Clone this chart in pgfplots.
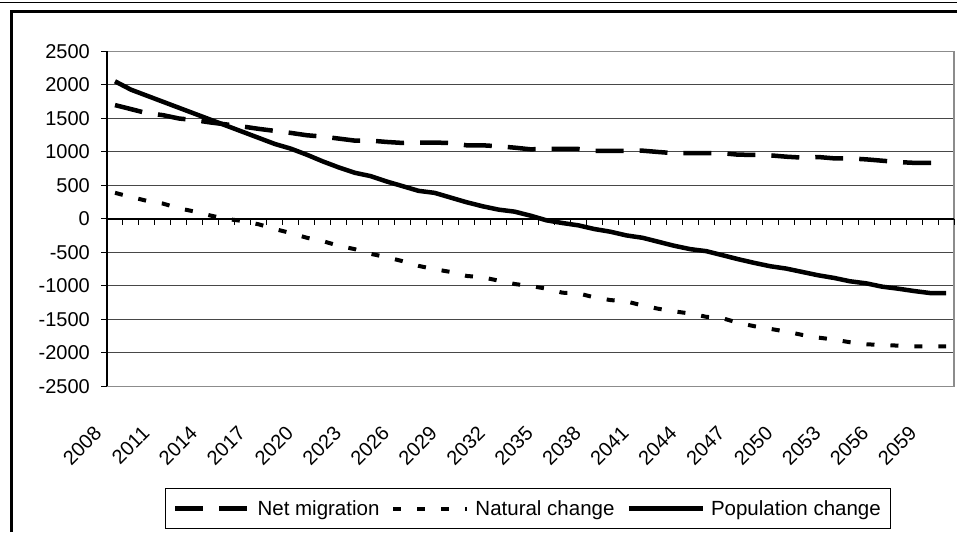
\documentclass[border=0pt]{standalone}
\usepackage{fontspec}
\setmainfont{Liberation Sans}
\usepackage{pgfplots}
\usepackage{pgfplotstable}
\pgfplotsset{compat=1.18}

% year, net migration, natural change, population change
\pgfplotstableread{
year net nat pop
2008 1700 390 2055
2009 1640 330 1930
2010 1580 270 1840
2011 1550 230 1750
2012 1500 160 1660
2013 1475 110 1570
2014 1440 50 1480
2015 1410 0 1390
2016 1380 -30 1300
2017 1345 -80 1210
2018 1315 -150 1120
2019 1285 -210 1050
2020 1250 -280 960
2021 1230 -330 860
2022 1200 -400 770
2023 1170 -450 690
2024 1170 -520 640
2025 1150 -570 560
2026 1135 -630 490
2027 1140 -700 420
2028 1140 -750 390
2029 1135 -790 320
2030 1100 -850 250
2031 1100 -870 190
2032 1085 -920 140
2033 1065 -970 110
2034 1040 -1000 50
2035 1045 -1040 -20
2036 1045 -1100 -60
2037 1045 -1110 -95
2038 1016 -1170 -150
2039 1016 -1210 -190
2040 1016 -1230 -245
2041 1020 -1290 -280
2042 1000 -1340 -340
2043 982 -1380 -400
2044 982 -1410 -450
2045 982 -1460 -480
2046 982 -1480 -540
2047 960 -1550 -600
2048 957 -1600 -655
2049 950 -1640 -705
2050 930 -1680 -740
2051 916 -1730 -790
2052 925 -1770 -840
2053 905 -1800 -880
2054 905 -1840 -930
2055 890 -1870 -960
2056 870 -1880 -1010
2057 850 -1890 -1040
2058 838 -1900 -1075
2059 838 -1900 -1105
2060 835 -1900 -1105
}\datatable

\pgfplotsset{
  plotbox/.style={
    at={(107pt,145.5pt)}, anchor=south west,
    scale only axis, width=847pt, height=335pt,
    xmin=2007.5, xmax=2060.5, ymin=-2500, ymax=2500,
  },
}

\begin{document}
\begin{tikzpicture}[x=1pt,y=1pt]
\useasboundingbox (0,0) rectangle (957,532);
% chart frame (cropped)
\draw[line width=1pt] (0,529.3) -- (957,529.3);
\draw[line width=3pt] (11.3,0) -- (11.3,520) -- (957,520);

% background: box, grid, tick labels
\begin{axis}[
  plotbox,
  axis line style={draw=black!45, line width=1.5pt},
  xtick={2008,2011,...,2059},
  ytick={-2500,-2000,...,2500},
  ymajorgrids,
  grid style={black!72, line width=1pt},
  major tick length=0pt,
  ticklabel style={font=\fontsize{20}{24}\selectfont},
  /pgf/number format/assume math mode=true,
  /pgf/number format/1000 sep={},
  yticklabel style={anchor=east, inner sep=0pt, xshift=-17pt},
  xticklabel style={xshift=-17pt, yshift=-43.5pt, rotate=45, anchor=east, inner sep=0pt},
]
\end{axis}

% axes at zero and the data
\begin{axis}[
  plotbox,
  axis x line=middle, axis y line=left,
  axis line style={black, line width=1.5pt, -},
  xtick={2007.5,2008.5,...,2060.5},
  ytick={-2500,-2000,...,2500},
  xticklabels={}, yticklabels={},
  tick align=outside,
  major tick length=6pt,
  tick style={black, line width=1pt},
  legend columns=3,
  legend style={at={(0.497,-0.304)}, anchor=north, draw=black, line width=1pt,
    font=\fontsize{20.5}{24}\selectfont,
    /tikz/every even column/.append style={column sep=10pt},
    /tikz/every odd column/.append style={column sep=4pt},
    inner xsep=8pt, inner ysep=9.5pt},
  legend image code/.code={\draw[#1] (0pt,0pt) -- (74pt,0pt);},
]
\addplot[black, line width=4.5pt, dash pattern=on 28pt off 16pt] table[x=year, y=net] {\datatable};
\addlegendentry{Net migration}
\addplot[black, line width=4pt, dash pattern=on 8pt off 16pt] table[x=year, y=nat] {\datatable};
\addlegendentry{Natural change}
\addplot[black, line width=4.5pt] table[x=year, y=pop] {\datatable};
\addlegendentry{Population change}
\end{axis}
\end{tikzpicture}
\end{document}
